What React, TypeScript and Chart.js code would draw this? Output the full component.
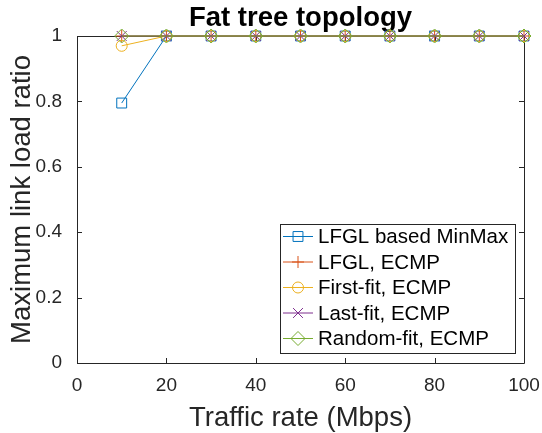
import React, { useEffect, useRef } from "react";
import { Chart, registerables } from "chart.js";

Chart.register(...registerables);

// Traffic rates (Mbps) on the x axis
const trafficRates = [10, 20, 30, 40, 50, 60, 70, 80, 90, 100];

// Maximum link load ratio per scheme
const lfglMinMax = [0.795, 1, 1, 1, 1, 1, 1, 1, 1, 1];
const lfglEcmp = [1, 1, 1, 1, 1, 1, 1, 1, 1, 1];
const firstFitEcmp = [0.97, 1, 1, 1, 1, 1, 1, 1, 1, 1];
const lastFitEcmp = [1, 1, 1, 1, 1, 1, 1, 1, 1, 1];
const randomFitEcmp = [1, 1, 1, 1, 1, 1, 1, 1, 1, 1];

const seriesNames = [
  "LFGL based MinMax",
  "LFGL, ECMP",
  "First-fit, ECMP",
  "Last-fit, ECMP",
  "Random-fit, ECMP",
];
const seriesValues = [lfglMinMax, lfglEcmp, firstFitEcmp, lastFitEcmp, randomFitEcmp];
const seriesColors = ["#0072BD", "#D95319", "#EDB120", "#7E2F8E", "#77AC30"];
const seriesMarkers = ["rect", "cross", "circle", "crossRot", "rectRot"];
const markerRadii = [7, 6, 5.5, 7, 7];

const FONT = "'Liberation Sans', Arial, Helvetica, sans-serif";
const AXIS_COLOR = "#262626";

// Draws a single unfilled marker for the legend
function drawMarker(ctx: CanvasRenderingContext2D, style: string, x: number, y: number, r: number) {
  ctx.beginPath();
  if (style === "rect") {
    const s = r * Math.SQRT1_2;
    ctx.rect(x - s, y - s, 2 * s, 2 * s);
  } else if (style === "cross") {
    ctx.moveTo(x - r, y);
    ctx.lineTo(x + r, y);
    ctx.moveTo(x, y - r);
    ctx.lineTo(x, y + r);
  } else if (style === "circle") {
    ctx.arc(x, y, r, 0, Math.PI * 2);
  } else if (style === "crossRot") {
    const s = r * Math.SQRT1_2;
    ctx.moveTo(x - s, y - s);
    ctx.lineTo(x + s, y + s);
    ctx.moveTo(x - s, y + s);
    ctx.lineTo(x + s, y - s);
  } else if (style === "rectRot") {
    ctx.moveTo(x, y - r);
    ctx.lineTo(x + r, y);
    ctx.lineTo(x, y + r);
    ctx.lineTo(x - r, y);
    ctx.closePath();
  }
  ctx.stroke();
}

// Axes box with inward tick marks on all four sides
const boxPlugin = {
  id: "axesBox",
  beforeDatasetsDraw(chart: any) {
    const { ctx, chartArea: a, scales } = chart;
    const tick = 5;
    ctx.save();
    ctx.strokeStyle = AXIS_COLOR;
    ctx.lineWidth = 1;
    ctx.beginPath();
    ctx.rect(Math.round(a.left) + 0.5, Math.round(a.top) + 0.5, Math.round(a.right - a.left), Math.round(a.bottom - a.top));
    scales.x.ticks.forEach((t: any) => {
      const px = Math.round(scales.x.getPixelForValue(t.value)) + 0.5;
      ctx.moveTo(px, a.bottom);
      ctx.lineTo(px, a.bottom - tick);
      ctx.moveTo(px, a.top);
      ctx.lineTo(px, a.top + tick);
    });
    scales.y.ticks.forEach((t: any) => {
      const py = Math.round(scales.y.getPixelForValue(t.value)) + 0.5;
      ctx.moveTo(a.left, py);
      ctx.lineTo(a.left + tick, py);
      ctx.moveTo(a.right, py);
      ctx.lineTo(a.right - tick, py);
    });
    ctx.stroke();
    ctx.restore();
  },
};

// Boxed legend in the lower-right corner of the plot area
const insetLegendPlugin = {
  id: "insetLegend",
  afterDraw(chart: any) {
    const { ctx, chartArea: a } = chart;
    const w = 235;
    const h = 129;
    const right = a.right - 9;
    const bottom = a.bottom - 10;
    const left = right - w;
    const top = bottom - h;
    ctx.save();
    ctx.fillStyle = "#ffffff";
    ctx.fillRect(left, top, w, h);
    ctx.strokeStyle = AXIS_COLOR;
    ctx.lineWidth = 1;
    ctx.strokeRect(Math.round(left) + 0.5, Math.round(top) + 0.5, w, h);
    ctx.font = `20.5px ${FONT}`;
    ctx.textBaseline = "middle";
    ctx.textAlign = "left";
    const rowGap = 25.5;
    seriesNames.forEach((name, i) => {
      const y = top + 12.5 + i * rowGap;
      ctx.strokeStyle = seriesColors[i];
      ctx.lineWidth = 1;
      ctx.beginPath();
      ctx.moveTo(left + 3, y);
      ctx.lineTo(left + 33, y);
      ctx.stroke();
      drawMarker(ctx, seriesMarkers[i], left + 18, y, markerRadii[i]);
      ctx.fillStyle = "#000000";
      ctx.fillText(name, left + 38, y + 1);
    });
    ctx.restore();
  },
};

export default function App() {
  const canvasRef = useRef<HTMLCanvasElement | null>(null);

  useEffect(() => {
    const canvas = canvasRef.current;
    if (!canvas) return;
    const chart = new Chart(canvas, {
      type: "line",
      data: {
        labels: trafficRates,
        datasets: seriesNames.map((name, i) => ({
          label: name,
          data: trafficRates.map((x, j) => ({ x, y: seriesValues[i][j] })),
          borderColor: seriesColors[i],
          backgroundColor: "transparent",
          borderWidth: 1,
          pointStyle: seriesMarkers[i] as any,
          pointRadius: markerRadii[i],
          pointBorderWidth: 1,
          pointBorderColor: seriesColors[i],
          pointBackgroundColor: "transparent",
          tension: 0,
          clip: false as any,
          order: seriesNames.length - i,
        })),
      },
      options: {
        responsive: false,
        animation: false,
        devicePixelRatio: 1,
        layout: { padding: { top: 0, right: 18, bottom: 0, left: 0 } },
        plugins: {
          legend: { display: false },
          tooltip: { enabled: false },
          title: {
            display: true,
            text: "Fat tree topology",
            fullSize: false,
            color: "#000000",
            font: { family: FONT, size: 27.5, weight: "bold", lineHeight: 1.2 },
            padding: { top: 2, bottom: 1 },
          },
        },
        scales: {
          x: {
            type: "linear",
            min: 0,
            max: 100,
            grid: { display: false },
            border: { display: false },
            ticks: {
              stepSize: 20,
              padding: 3,
              color: AXIS_COLOR,
              font: { family: FONT, size: 19 },
              maxRotation: 0,
            },
            title: {
              display: true,
              text: "Traffic rate (Mbps)",
              color: AXIS_COLOR,
              font: { family: FONT, size: 27.5 },
              padding: { top: 0, bottom: -2 },
            },
            afterFit(scale: any) {
              scale.height = 70;
              scale.paddingLeft = 0;
              scale.paddingRight = 0;
            },
          },
          y: {
            type: "linear",
            min: 0,
            max: 1,
            grid: { display: false },
            border: { display: false },
            ticks: {
              stepSize: 0.2,
              padding: 7,
              color: AXIS_COLOR,
              font: { family: FONT, size: 19 },
              callback: (v: any) => String(Math.round(Number(v) * 10) / 10),
            },
            title: {
              display: true,
              text: "Maximum link load ratio",
              color: AXIS_COLOR,
              font: { family: FONT, size: 27.5 },
              padding: { top: 6, bottom: 0 },
            },
            afterFit(scale: any) {
              scale.width = 77;
              scale.paddingTop = 0;
              scale.paddingBottom = 0;
            },
          },
        },
      },
      plugins: [boxPlugin, insetLegendPlugin],
    });
    return () => chart.destroy();
  }, []);

  return (
    <div style={{ position: "absolute", left: 0, top: 0, width: 542, height: 433, background: "#ffffff" }}>
      <canvas ref={canvasRef} width={542} height={433} />
    </div>
  );
}
